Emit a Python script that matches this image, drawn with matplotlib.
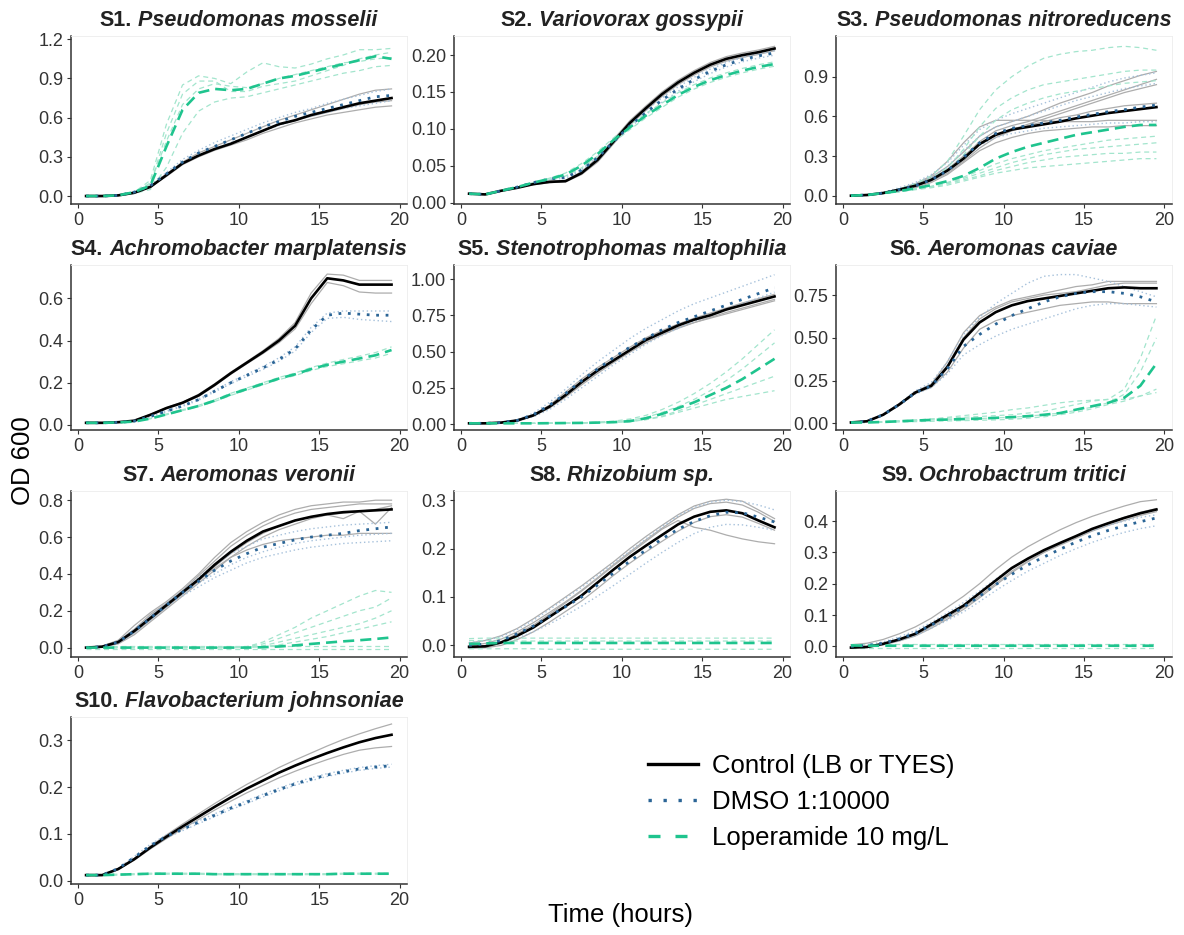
import matplotlib
matplotlib.use('Agg')
import matplotlib.pyplot as plt
from matplotlib.lines import Line2D

plt.rcParams['font.family'] = ['Liberation Sans', 'DejaVu Sans']

# sampling times (hours)
hours = [0.5, 1.5, 2.5, 3.5, 4.5, 5.5, 6.5, 7.5, 8.5, 9.5,
         10.5, 11.5, 12.5, 13.5, 14.5, 15.5, 16.5, 17.5, 18.5, 19.5]

panel_ids = ['S1.', 'S2.', 'S3.', 'S4.', 'S5.', 'S6.', 'S7.', 'S8.', 'S9.', 'S10.']
species = ['Pseudomonas mosselii', 'Variovorax gossypii', 'Pseudomonas nitroreducens',
           'Achromobacter marplatensis', 'Stenotrophomas maltophilia', 'Aeromonas caviae',
           'Aeromonas veronii', 'Rhizobium sp.', 'Ochrobactrum tritici',
           'Flavobacterium johnsoniae']
legend_labels = ['Control (LB or TYES)', 'DMSO 1:10000', 'Loperamide 10 mg/L']

# ---- S1 Pseudomonas mosselii
s1_ctrl = [0.0, 0.0, 0.005, 0.025, 0.07, 0.16, 0.25, 0.31, 0.36, 0.40, 0.45, 0.50, 0.55, 0.58, 0.62, 0.65, 0.68, 0.71, 0.73, 0.75]
s1_dmso = [0.0, 0.0, 0.005, 0.03, 0.08, 0.17, 0.26, 0.33, 0.38, 0.43, 0.48, 0.53, 0.57, 0.61, 0.64, 0.67, 0.70, 0.73, 0.76, 0.77]
s1_lop = [0.0, 0.0, 0.005, 0.03, 0.08, 0.38, 0.66, 0.79, 0.82, 0.81, 0.82, 0.86, 0.90, 0.92, 0.95, 0.98, 1.01, 1.04, 1.07, 1.05]
s1_ctrl_reps = [
    [0.0, 0.0, 0.005, 0.025, 0.075, 0.17, 0.26, 0.33, 0.38, 0.43, 0.48, 0.53, 0.58, 0.62, 0.66, 0.70, 0.74, 0.78, 0.81, 0.82],
    [0.0, 0.0, 0.005, 0.025, 0.07, 0.15, 0.24, 0.30, 0.35, 0.39, 0.43, 0.48, 0.52, 0.56, 0.59, 0.62, 0.64, 0.66, 0.68, 0.69],
    [0.0, 0.0, 0.005, 0.025, 0.07, 0.16, 0.25, 0.31, 0.36, 0.40, 0.45, 0.50, 0.55, 0.58, 0.61, 0.64, 0.67, 0.70, 0.72, 0.73]]
s1_dmso_reps = [
    [0.0, 0.0, 0.005, 0.03, 0.085, 0.18, 0.28, 0.35, 0.41, 0.46, 0.51, 0.56, 0.60, 0.64, 0.67, 0.71, 0.74, 0.77, 0.80, 0.82],
    [0.0, 0.0, 0.005, 0.03, 0.075, 0.16, 0.25, 0.31, 0.36, 0.41, 0.45, 0.50, 0.54, 0.58, 0.61, 0.64, 0.67, 0.69, 0.71, 0.73]]
s1_lop_reps = [
    [0.0, 0.0, 0.005, 0.03, 0.12, 0.55, 0.85, 0.92, 0.90, 0.86, 0.95, 1.02, 0.99, 0.98, 1.01, 1.05, 1.08, 1.12, 1.12, 1.13],
    [0.0, 0.0, 0.005, 0.02, 0.05, 0.22, 0.48, 0.65, 0.72, 0.75, 0.76, 0.79, 0.82, 0.85, 0.88, 0.91, 0.94, 0.96, 0.99, 1.00],
    [0.0, 0.0, 0.005, 0.03, 0.10, 0.42, 0.70, 0.82, 0.86, 0.84, 0.83, 0.86, 0.90, 0.93, 0.96, 0.99, 1.02, 1.03, 1.05, 1.06],
    [0.0, 0.0, 0.005, 0.03, 0.09, 0.48, 0.78, 0.88, 0.88, 0.80, 0.80, 0.84, 0.86, 0.88, 0.92, 0.96, 1.00, 1.05, 1.08, 1.10]]

# ---- S2 Variovorax gossypii
s2_ctrl = [0.012, 0.011, 0.016, 0.020, 0.025, 0.028, 0.029, 0.040, 0.058, 0.083, 0.108, 0.128, 0.147, 0.163, 0.176, 0.187, 0.195, 0.200, 0.204, 0.209]
s2_dmso = [0.012, 0.011, 0.016, 0.021, 0.027, 0.032, 0.034, 0.044, 0.061, 0.083, 0.104, 0.122, 0.139, 0.154, 0.167, 0.178, 0.187, 0.194, 0.199, 0.203]
s2_lop = [0.012, 0.011, 0.016, 0.021, 0.027, 0.032, 0.038, 0.050, 0.066, 0.085, 0.102, 0.118, 0.132, 0.146, 0.157, 0.166, 0.173, 0.179, 0.184, 0.188]
s2_ctrl_reps = [
    [0.012, 0.011, 0.016, 0.021, 0.026, 0.029, 0.030, 0.042, 0.061, 0.086, 0.111, 0.131, 0.150, 0.166, 0.179, 0.190, 0.198, 0.203, 0.207, 0.212],
    [0.012, 0.011, 0.016, 0.020, 0.024, 0.027, 0.028, 0.038, 0.055, 0.080, 0.105, 0.125, 0.144, 0.160, 0.173, 0.184, 0.192, 0.197, 0.201, 0.206]]
s2_dmso_reps = [
    [0.012, 0.011, 0.016, 0.021, 0.027, 0.033, 0.035, 0.045, 0.063, 0.085, 0.106, 0.125, 0.142, 0.157, 0.170, 0.181, 0.190, 0.197, 0.202, 0.206],
    [0.012, 0.011, 0.016, 0.021, 0.026, 0.031, 0.033, 0.043, 0.059, 0.081, 0.102, 0.119, 0.136, 0.151, 0.164, 0.175, 0.184, 0.191, 0.196, 0.200]]
s2_lop_reps = [
    [0.012, 0.011, 0.016, 0.021, 0.027, 0.033, 0.040, 0.053, 0.069, 0.088, 0.105, 0.121, 0.135, 0.149, 0.160, 0.169, 0.176, 0.182, 0.187, 0.191],
    [0.012, 0.011, 0.016, 0.021, 0.026, 0.031, 0.036, 0.047, 0.063, 0.082, 0.099, 0.115, 0.129, 0.143, 0.154, 0.163, 0.170, 0.176, 0.181, 0.185]]

# ---- S3 Pseudomonas nitroreducens
s3_ctrl = [0.0, 0.005, 0.02, 0.045, 0.075, 0.12, 0.19, 0.28, 0.39, 0.46, 0.50, 0.52, 0.54, 0.56, 0.585, 0.605, 0.625, 0.64, 0.655, 0.67]
s3_dmso = [0.0, 0.005, 0.02, 0.045, 0.075, 0.12, 0.19, 0.29, 0.40, 0.47, 0.51, 0.53, 0.55, 0.57, 0.595, 0.615, 0.635, 0.65, 0.67, 0.685]
s3_lop = [0.0, 0.005, 0.02, 0.035, 0.055, 0.08, 0.11, 0.15, 0.21, 0.28, 0.33, 0.37, 0.40, 0.43, 0.46, 0.48, 0.50, 0.52, 0.535, 0.535]
s3_ctrl_reps = [
    [0.0, 0.005, 0.02, 0.05, 0.09, 0.14, 0.22, 0.33, 0.45, 0.52, 0.56, 0.60, 0.65, 0.70, 0.74, 0.78, 0.83, 0.87, 0.91, 0.94],
    [0.0, 0.005, 0.02, 0.045, 0.08, 0.13, 0.20, 0.30, 0.40, 0.46, 0.50, 0.54, 0.58, 0.62, 0.66, 0.70, 0.74, 0.78, 0.81, 0.84],
    [0.0, 0.005, 0.02, 0.05, 0.09, 0.15, 0.26, 0.40, 0.52, 0.57, 0.57, 0.57, 0.57, 0.56, 0.56, 0.56, 0.57, 0.57, 0.57, 0.57],
    [0.0, 0.005, 0.015, 0.035, 0.06, 0.10, 0.16, 0.25, 0.34, 0.40, 0.44, 0.47, 0.49, 0.50, 0.51, 0.52, 0.52, 0.53, 0.53, 0.53],
    [0.0, 0.005, 0.02, 0.04, 0.07, 0.11, 0.17, 0.26, 0.36, 0.44, 0.49, 0.53, 0.56, 0.59, 0.61, 0.64, 0.66, 0.68, 0.69, 0.70],
    [0.0, 0.005, 0.02, 0.045, 0.08, 0.12, 0.19, 0.29, 0.41, 0.49, 0.53, 0.56, 0.60, 0.64, 0.68, 0.72, 0.76, 0.80, 0.84, 0.88]]
s3_dmso_reps = [
    [0.0, 0.005, 0.02, 0.05, 0.09, 0.14, 0.22, 0.34, 0.45, 0.52, 0.56, 0.60, 0.64, 0.68, 0.72, 0.75, 0.78, 0.81, 0.83, 0.85],
    [0.0, 0.005, 0.02, 0.045, 0.075, 0.12, 0.19, 0.28, 0.38, 0.44, 0.47, 0.49, 0.51, 0.52, 0.53, 0.54, 0.55, 0.55, 0.56, 0.56],
    [0.0, 0.006, 0.025, 0.06, 0.10, 0.16, 0.25, 0.38, 0.50, 0.57, 0.62, 0.66, 0.70, 0.74, 0.78, 0.82, 0.86, 0.89, 0.91, 0.93]]
s3_lop_reps = [
    [0.0, 0.005, 0.02, 0.05, 0.09, 0.15, 0.26, 0.45, 0.65, 0.80, 0.90, 0.98, 1.04, 1.07, 1.09, 1.10, 1.12, 1.13, 1.12, 1.10],
    [0.0, 0.005, 0.02, 0.05, 0.08, 0.13, 0.21, 0.35, 0.52, 0.66, 0.74, 0.80, 0.84, 0.86, 0.88, 0.90, 0.92, 0.94, 0.95, 0.95],
    [0.0, 0.005, 0.02, 0.045, 0.075, 0.12, 0.19, 0.31, 0.45, 0.57, 0.65, 0.70, 0.74, 0.77, 0.79, 0.81, 0.83, 0.85, 0.86, 0.87],
    [0.0, 0.005, 0.015, 0.03, 0.05, 0.07, 0.10, 0.14, 0.19, 0.24, 0.28, 0.31, 0.34, 0.36, 0.38, 0.40, 0.42, 0.43, 0.44, 0.45],
    [0.0, 0.005, 0.015, 0.03, 0.045, 0.06, 0.08, 0.11, 0.14, 0.17, 0.19, 0.21, 0.22, 0.23, 0.24, 0.25, 0.26, 0.27, 0.28, 0.28],
    [0.0, 0.005, 0.015, 0.03, 0.05, 0.07, 0.095, 0.13, 0.17, 0.21, 0.25, 0.28, 0.31, 0.33, 0.35, 0.36, 0.37, 0.38, 0.39, 0.40],
    [0.0, 0.005, 0.015, 0.03, 0.05, 0.065, 0.09, 0.12, 0.15, 0.19, 0.22, 0.25, 0.27, 0.29, 0.30, 0.31, 0.32, 0.32, 0.33, 0.33]]

# ---- S4 Achromobacter marplatensis
s4_ctrl = [0.01, 0.01, 0.013, 0.02, 0.048, 0.08, 0.105, 0.14, 0.19, 0.245, 0.295, 0.345, 0.40, 0.47, 0.60, 0.695, 0.685, 0.665, 0.665, 0.665]
s4_dmso = [0.01, 0.01, 0.012, 0.018, 0.04, 0.065, 0.09, 0.12, 0.16, 0.20, 0.235, 0.27, 0.31, 0.36, 0.45, 0.52, 0.53, 0.525, 0.52, 0.52]
s4_lop = [0.01, 0.01, 0.012, 0.016, 0.03, 0.05, 0.07, 0.09, 0.115, 0.145, 0.17, 0.195, 0.22, 0.24, 0.265, 0.285, 0.30, 0.315, 0.33, 0.355]
s4_ctrl_reps = [
    [0.01, 0.01, 0.013, 0.02, 0.05, 0.082, 0.108, 0.145, 0.195, 0.25, 0.30, 0.352, 0.41, 0.485, 0.625, 0.715, 0.71, 0.685, 0.685, 0.685],
    [0.01, 0.01, 0.013, 0.02, 0.046, 0.078, 0.102, 0.135, 0.185, 0.24, 0.29, 0.338, 0.39, 0.455, 0.575, 0.675, 0.66, 0.63, 0.625, 0.625]]
s4_dmso_reps = [
    [0.01, 0.01, 0.012, 0.018, 0.041, 0.067, 0.092, 0.123, 0.163, 0.205, 0.24, 0.277, 0.318, 0.37, 0.462, 0.53, 0.54, 0.54, 0.54, 0.54],
    [0.01, 0.01, 0.012, 0.018, 0.039, 0.063, 0.088, 0.117, 0.157, 0.195, 0.23, 0.263, 0.302, 0.35, 0.438, 0.505, 0.51, 0.50, 0.495, 0.49]]
s4_lop_reps = [
    [0.01, 0.01, 0.012, 0.016, 0.031, 0.052, 0.072, 0.093, 0.119, 0.15, 0.175, 0.20, 0.225, 0.246, 0.272, 0.293, 0.31, 0.326, 0.343, 0.37],
    [0.01, 0.01, 0.012, 0.016, 0.029, 0.048, 0.068, 0.087, 0.111, 0.14, 0.165, 0.19, 0.215, 0.234, 0.258, 0.277, 0.29, 0.304, 0.317, 0.34]]

# ---- S5 Stenotrophomas maltophilia
s5_ctrl = [0.005, 0.005, 0.01, 0.025, 0.06, 0.12, 0.20, 0.29, 0.37, 0.44, 0.51, 0.58, 0.63, 0.68, 0.72, 0.75, 0.79, 0.82, 0.85, 0.88]
s5_dmso = [0.005, 0.005, 0.01, 0.025, 0.065, 0.13, 0.21, 0.30, 0.38, 0.46, 0.53, 0.59, 0.65, 0.70, 0.74, 0.78, 0.82, 0.86, 0.90, 0.94]
s5_lop = [0.005, 0.005, 0.005, 0.005, 0.005, 0.006, 0.007, 0.008, 0.01, 0.013, 0.02, 0.04, 0.07, 0.11, 0.15, 0.20, 0.25, 0.31, 0.38, 0.45]
s5_ctrl_reps = [
    [0.005, 0.005, 0.01, 0.028, 0.066, 0.13, 0.22, 0.31, 0.39, 0.46, 0.53, 0.595, 0.645, 0.69, 0.73, 0.765, 0.80, 0.835, 0.865, 0.895],
    [0.005, 0.005, 0.01, 0.022, 0.055, 0.11, 0.185, 0.27, 0.35, 0.425, 0.495, 0.56, 0.615, 0.66, 0.70, 0.735, 0.77, 0.80, 0.83, 0.86],
    [0.005, 0.005, 0.01, 0.024, 0.058, 0.115, 0.19, 0.28, 0.36, 0.435, 0.505, 0.57, 0.625, 0.665, 0.70, 0.73, 0.76, 0.79, 0.82, 0.85]]
s5_dmso_reps = [
    [0.005, 0.005, 0.012, 0.03, 0.075, 0.15, 0.24, 0.34, 0.43, 0.51, 0.59, 0.66, 0.72, 0.78, 0.83, 0.87, 0.91, 0.95, 0.99, 1.03],
    [0.005, 0.005, 0.01, 0.02, 0.05, 0.10, 0.17, 0.25, 0.33, 0.41, 0.48, 0.55, 0.61, 0.66, 0.71, 0.75, 0.79, 0.83, 0.87, 0.91]]
s5_lop_reps = [
    [0.005, 0.005, 0.005, 0.005, 0.005, 0.006, 0.007, 0.009, 0.013, 0.02, 0.035, 0.06, 0.10, 0.15, 0.21, 0.28, 0.36, 0.45, 0.55, 0.65],
    [0.005, 0.005, 0.005, 0.005, 0.005, 0.006, 0.007, 0.008, 0.011, 0.016, 0.026, 0.045, 0.08, 0.12, 0.17, 0.23, 0.30, 0.38, 0.47, 0.56],
    [0.005, 0.005, 0.005, 0.005, 0.005, 0.006, 0.007, 0.008, 0.01, 0.012, 0.017, 0.03, 0.05, 0.08, 0.11, 0.14, 0.17, 0.19, 0.21, 0.23],
    [0.005, 0.005, 0.005, 0.005, 0.005, 0.006, 0.007, 0.008, 0.01, 0.012, 0.018, 0.032, 0.055, 0.09, 0.13, 0.17, 0.21, 0.25, 0.29, 0.33]]

# ---- S6 Aeromonas caviae
s6_ctrl = [0.005, 0.012, 0.05, 0.11, 0.18, 0.22, 0.33, 0.49, 0.59, 0.65, 0.69, 0.715, 0.73, 0.745, 0.76, 0.775, 0.79, 0.795, 0.79, 0.79]
s6_dmso = [0.005, 0.012, 0.05, 0.11, 0.18, 0.22, 0.32, 0.45, 0.52, 0.58, 0.63, 0.67, 0.71, 0.74, 0.76, 0.77, 0.77, 0.76, 0.74, 0.71]
s6_lop = [0.005, 0.005, 0.008, 0.012, 0.016, 0.02, 0.022, 0.025, 0.028, 0.032, 0.036, 0.042, 0.05, 0.06, 0.08, 0.10, 0.12, 0.15, 0.22, 0.35]
s6_ctrl_reps = [
    [0.005, 0.012, 0.052, 0.115, 0.185, 0.23, 0.36, 0.53, 0.63, 0.68, 0.72, 0.74, 0.76, 0.78, 0.80, 0.81, 0.83, 0.83, 0.83, 0.83],
    [0.005, 0.012, 0.048, 0.105, 0.175, 0.21, 0.30, 0.44, 0.55, 0.60, 0.63, 0.65, 0.67, 0.69, 0.70, 0.71, 0.71, 0.70, 0.70, 0.70],
    [0.005, 0.012, 0.05, 0.11, 0.18, 0.22, 0.34, 0.50, 0.61, 0.67, 0.71, 0.73, 0.75, 0.76, 0.77, 0.79, 0.81, 0.82, 0.82, 0.82]]
s6_dmso_reps = [
    [0.005, 0.012, 0.05, 0.115, 0.19, 0.24, 0.36, 0.52, 0.62, 0.70, 0.76, 0.82, 0.86, 0.87, 0.87, 0.85, 0.83, 0.80, 0.77, 0.74],
    [0.005, 0.012, 0.048, 0.105, 0.17, 0.21, 0.29, 0.40, 0.46, 0.51, 0.55, 0.58, 0.61, 0.64, 0.67, 0.69, 0.70, 0.70, 0.69, 0.68]]
s6_lop_reps = [
    [0.005, 0.005, 0.01, 0.015, 0.02, 0.025, 0.03, 0.035, 0.04, 0.045, 0.05, 0.06, 0.07, 0.09, 0.11, 0.13, 0.14, 0.20, 0.38, 0.63],
    [0.005, 0.005, 0.008, 0.012, 0.018, 0.025, 0.035, 0.045, 0.055, 0.065, 0.08, 0.09, 0.105, 0.12, 0.13, 0.135, 0.14, 0.14, 0.16, 0.18],
    [0.005, 0.005, 0.008, 0.012, 0.016, 0.02, 0.022, 0.025, 0.028, 0.032, 0.036, 0.042, 0.05, 0.06, 0.075, 0.095, 0.12, 0.17, 0.30, 0.50],
    [0.005, 0.005, 0.006, 0.008, 0.01, 0.012, 0.014, 0.016, 0.018, 0.02, 0.024, 0.03, 0.038, 0.05, 0.065, 0.085, 0.11, 0.13, 0.16, 0.20]]

# ---- S7 Aeromonas veronii
s7_ctrl = [0.0, 0.005, 0.03, 0.09, 0.16, 0.23, 0.30, 0.37, 0.45, 0.52, 0.58, 0.63, 0.66, 0.69, 0.71, 0.725, 0.735, 0.74, 0.745, 0.75]
s7_dmso = [0.0, 0.005, 0.03, 0.09, 0.16, 0.23, 0.30, 0.36, 0.42, 0.47, 0.51, 0.545, 0.565, 0.585, 0.60, 0.61, 0.62, 0.635, 0.645, 0.655]
s7_lop = [0.0, 0.0, 0.0, 0.0, 0.0, 0.0, 0.0, 0.0, 0.0, 0.0, 0.0, 0.002, 0.006, 0.012, 0.02, 0.027, 0.034, 0.04, 0.047, 0.055]
s7_ctrl_reps = [
    [0.0, 0.008, 0.04, 0.12, 0.19, 0.25, 0.32, 0.40, 0.49, 0.57, 0.63, 0.68, 0.72, 0.75, 0.77, 0.78, 0.79, 0.79, 0.80, 0.80],
    [0.0, 0.005, 0.03, 0.09, 0.17, 0.24, 0.31, 0.39, 0.47, 0.55, 0.61, 0.66, 0.70, 0.73, 0.75, 0.76, 0.77, 0.78, 0.78, 0.78],
    [0.0, 0.003, 0.02, 0.07, 0.14, 0.21, 0.28, 0.35, 0.42, 0.49, 0.55, 0.60, 0.64, 0.67, 0.70, 0.72, 0.70, 0.74, 0.67, 0.76],
    [0.0, 0.004, 0.025, 0.08, 0.15, 0.22, 0.29, 0.36, 0.44, 0.51, 0.57, 0.62, 0.66, 0.69, 0.71, 0.72, 0.73, 0.74, 0.75, 0.77],
    [0.0, 0.006, 0.035, 0.10, 0.18, 0.24, 0.30, 0.37, 0.43, 0.49, 0.53, 0.56, 0.58, 0.59, 0.60, 0.61, 0.61, 0.62, 0.62, 0.62]]
s7_dmso_reps = [
    [0.0, 0.006, 0.035, 0.10, 0.17, 0.24, 0.31, 0.38, 0.45, 0.51, 0.55, 0.59, 0.61, 0.63, 0.645, 0.655, 0.665, 0.67, 0.675, 0.68],
    [0.0, 0.004, 0.025, 0.08, 0.15, 0.22, 0.28, 0.33, 0.38, 0.42, 0.46, 0.49, 0.51, 0.53, 0.545, 0.555, 0.565, 0.57, 0.575, 0.58],
    [0.0, 0.005, 0.03, 0.09, 0.16, 0.23, 0.29, 0.35, 0.40, 0.45, 0.49, 0.52, 0.545, 0.565, 0.58, 0.59, 0.60, 0.61, 0.615, 0.62]]
s7_lop_reps = [
    [0.0, 0.0, 0.0, 0.0, 0.0, 0.0, 0.0, 0.0, 0.0, 0.0, 0.005, 0.03, 0.07, 0.11, 0.16, 0.20, 0.24, 0.28, 0.31, 0.30],
    [0.0, 0.0, 0.0, 0.0, 0.0, 0.0, 0.0, 0.0, 0.0, 0.0, 0.005, 0.02, 0.05, 0.08, 0.11, 0.14, 0.17, 0.20, 0.22, 0.27],
    [0.0, 0.0, 0.0, 0.0, 0.0, 0.0, 0.0, 0.0, 0.0, 0.0, 0.002, 0.01, 0.03, 0.05, 0.07, 0.09, 0.11, 0.13, 0.16, 0.20],
    [0.0, 0.0, 0.0, 0.0, 0.0, 0.0, 0.0, 0.0, 0.0, 0.0, 0.0, 0.005, 0.015, 0.03, 0.045, 0.06, 0.08, 0.10, 0.12, 0.14],
    [0.01, 0.01, 0.01, 0.01, 0.01, 0.01, 0.01, 0.01, 0.01, 0.01, 0.01, 0.01, 0.01, 0.01, 0.01, 0.01, 0.01, 0.01, 0.01, 0.01],
    [-0.008, -0.008, -0.008, -0.008, -0.008, -0.008, -0.008, -0.008, -0.008, -0.008, -0.008, -0.008, -0.008, -0.008, -0.008, -0.008, -0.008, -0.008, -0.008, -0.008]]

# ---- S8 Rhizobium sp.
s8_ctrl = [-0.003, -0.002, 0.006, 0.02, 0.037, 0.059, 0.081, 0.103, 0.13, 0.157, 0.183, 0.206, 0.228, 0.25, 0.266, 0.276, 0.279, 0.273, 0.258, 0.244]
s8_dmso = [0.0, 0.003, 0.01, 0.024, 0.04, 0.06, 0.08, 0.10, 0.125, 0.15, 0.174, 0.197, 0.22, 0.24, 0.256, 0.268, 0.275, 0.274, 0.265, 0.255]
s8_lop = [0.003, 0.004, 0.005, 0.005, 0.005, 0.005, 0.005, 0.005, 0.005, 0.005, 0.005, 0.005, 0.005, 0.005, 0.005, 0.005, 0.005, 0.005, 0.005, 0.005]
s8_ctrl_reps = [
    [0.005, 0.01, 0.02, 0.035, 0.055, 0.077, 0.10, 0.123, 0.148, 0.173, 0.20, 0.225, 0.248, 0.27, 0.288, 0.298, 0.302, 0.298, 0.28, 0.262],
    [-0.006, -0.005, 0.0, 0.012, 0.028, 0.048, 0.07, 0.092, 0.118, 0.145, 0.17, 0.193, 0.215, 0.236, 0.254, 0.266, 0.27, 0.265, 0.252, 0.238],
    [-0.003, -0.001, 0.008, 0.024, 0.042, 0.064, 0.088, 0.112, 0.138, 0.165, 0.19, 0.215, 0.24, 0.258, 0.244, 0.238, 0.228, 0.22, 0.214, 0.21],
    [0.0, 0.004, 0.013, 0.028, 0.047, 0.068, 0.09, 0.114, 0.14, 0.167, 0.193, 0.218, 0.242, 0.265, 0.283, 0.293, 0.296, 0.29, 0.275, 0.256]]
s8_dmso_reps = [
    [0.006, 0.01, 0.018, 0.033, 0.052, 0.074, 0.097, 0.12, 0.145, 0.17, 0.195, 0.22, 0.245, 0.268, 0.285, 0.296, 0.30, 0.297, 0.29, 0.28],
    [-0.002, 0.0, 0.005, 0.015, 0.028, 0.044, 0.062, 0.081, 0.102, 0.124, 0.147, 0.17, 0.192, 0.213, 0.231, 0.244, 0.25, 0.249, 0.244, 0.238]]
s8_lop_reps = [
    [0.014, 0.015, 0.015, 0.015, 0.015, 0.015, 0.015, 0.015, 0.015, 0.015, 0.015, 0.015, 0.015, 0.015, 0.015, 0.015, 0.015, 0.015, 0.015, 0.015],
    [-0.007, -0.007, -0.007, -0.007, -0.007, -0.008, -0.008, -0.008, -0.008, -0.008, -0.008, -0.008, -0.008, -0.008, -0.008, -0.008, -0.008, -0.008, -0.008, -0.008],
    [0.010, 0.010, 0.010, 0.009, 0.009, 0.009, 0.009, 0.009, 0.009, 0.009, 0.009, 0.009, 0.009, 0.009, 0.009, 0.009, 0.009, 0.009, 0.009, 0.009]]

# ---- S9 Ochrobactrum tritici
s9_ctrl = [-0.004, -0.002, 0.008, 0.022, 0.04, 0.07, 0.10, 0.13, 0.17, 0.21, 0.25, 0.28, 0.307, 0.33, 0.352, 0.375, 0.393, 0.41, 0.425, 0.437]
s9_dmso = [0.0, 0.003, 0.01, 0.024, 0.042, 0.068, 0.095, 0.125, 0.16, 0.197, 0.23, 0.26, 0.285, 0.31, 0.333, 0.353, 0.37, 0.385, 0.398, 0.41]
s9_lop = [0.003, 0.002, 0.002, 0.002, 0.002, 0.002, 0.002, 0.002, 0.002, 0.002, 0.002, 0.002, 0.002, 0.002, 0.002, 0.002, 0.002, 0.002, 0.002, 0.002]
s9_ctrl_reps = [
    [0.005, 0.01, 0.022, 0.04, 0.062, 0.09, 0.125, 0.16, 0.20, 0.245, 0.285, 0.318, 0.346, 0.372, 0.395, 0.415, 0.432, 0.448, 0.462, 0.468],
    [-0.005, -0.003, 0.005, 0.017, 0.033, 0.058, 0.087, 0.118, 0.155, 0.195, 0.235, 0.27, 0.30, 0.326, 0.35, 0.374, 0.394, 0.412, 0.428, 0.44],
    [-0.004, -0.002, 0.006, 0.019, 0.036, 0.063, 0.093, 0.124, 0.16, 0.20, 0.24, 0.272, 0.30, 0.323, 0.345, 0.368, 0.386, 0.402, 0.418, 0.43]]
s9_dmso_reps = [
    [0.003, 0.006, 0.014, 0.03, 0.05, 0.077, 0.107, 0.14, 0.177, 0.215, 0.25, 0.28, 0.305, 0.328, 0.35, 0.37, 0.386, 0.40, 0.412, 0.42],
    [-0.002, 0.0, 0.006, 0.018, 0.034, 0.058, 0.083, 0.11, 0.143, 0.178, 0.21, 0.24, 0.265, 0.29, 0.312, 0.332, 0.349, 0.364, 0.376, 0.385]]
s9_lop_reps = [
    [0.009, 0.009, 0.009, 0.009, 0.009, 0.009, 0.009, 0.009, 0.009, 0.009, 0.009, 0.009, 0.009, 0.009, 0.009, 0.009, 0.009, 0.009, 0.009, 0.009],
    [-0.006, -0.006, -0.006, -0.006, -0.006, -0.006, -0.006, -0.006, -0.006, -0.006, -0.006, -0.006, -0.006, -0.006, -0.006, -0.006, -0.006, -0.006, -0.006, -0.006]]

# ---- S10 Flavobacterium johnsoniae
s10_ctrl = [0.012, 0.012, 0.025, 0.046, 0.071, 0.094, 0.116, 0.137, 0.158, 0.178, 0.197, 0.214, 0.231, 0.246, 0.26, 0.273, 0.285, 0.296, 0.305, 0.312]
s10_dmso = [0.012, 0.012, 0.026, 0.05, 0.075, 0.095, 0.11, 0.125, 0.14, 0.155, 0.168, 0.182, 0.195, 0.207, 0.217, 0.226, 0.233, 0.239, 0.243, 0.246]
s10_lop = [0.012, 0.012, 0.013, 0.014, 0.015, 0.015, 0.015, 0.015, 0.014, 0.014, 0.014, 0.014, 0.014, 0.014, 0.014, 0.014, 0.015, 0.015, 0.015, 0.015]
s10_ctrl_reps = [
    [0.012, 0.012, 0.026, 0.048, 0.074, 0.098, 0.121, 0.143, 0.165, 0.186, 0.206, 0.224, 0.242, 0.258, 0.273, 0.288, 0.302, 0.314, 0.325, 0.335],
    [0.012, 0.012, 0.024, 0.044, 0.068, 0.09, 0.111, 0.131, 0.151, 0.17, 0.188, 0.204, 0.22, 0.234, 0.247, 0.259, 0.27, 0.279, 0.284, 0.287]]
s10_dmso_reps = [
    [0.012, 0.012, 0.027, 0.052, 0.078, 0.098, 0.113, 0.128, 0.143, 0.158, 0.171, 0.185, 0.198, 0.21, 0.22, 0.229, 0.236, 0.242, 0.246, 0.249],
    [0.012, 0.012, 0.025, 0.048, 0.072, 0.092, 0.107, 0.122, 0.137, 0.152, 0.165, 0.179, 0.192, 0.204, 0.214, 0.223, 0.230, 0.236, 0.240, 0.243]]
s10_lop_reps = [
    [0.012, 0.013, 0.014, 0.015, 0.016, 0.016, 0.016, 0.016, 0.015, 0.015, 0.015, 0.015, 0.015, 0.015, 0.015, 0.015, 0.016, 0.016, 0.016, 0.016],
    [0.011, 0.011, 0.012, 0.013, 0.014, 0.014, 0.014, 0.014, 0.013, 0.013, 0.013, 0.013, 0.013, 0.013, 0.013, 0.013, 0.014, 0.014, 0.014, 0.014]]

# per-panel y axis setup
y_limits = [(-0.061, 1.225), (-0.002, 0.226), (-0.063, 1.208),
            (-0.024, 0.758), (-0.041, 1.097), (-0.039, 0.926),
            (-0.051, 0.85), (-0.024, 0.319), (-0.034, 0.496),
            (-0.007, 0.35)]
y_ticks = [[0, 0.3, 0.6, 0.9, 1.2], [0, 0.05, 0.1, 0.15, 0.2], [0, 0.3, 0.6, 0.9],
           [0, 0.2, 0.4, 0.6], [0, 0.25, 0.5, 0.75, 1.0], [0, 0.25, 0.5, 0.75],
           [0, 0.2, 0.4, 0.6, 0.8], [0, 0.1, 0.2, 0.3], [0, 0.1, 0.2, 0.3, 0.4],
           [0, 0.1, 0.2, 0.3]]
y_fmt = ['%.1f', '%.2f', '%.1f', '%.1f', '%.2f', '%.2f', '%.1f', '%.1f', '%.1f', '%.1f']
x_ticks = [0, 5, 10, 15, 20]

panels = [
    (s1_ctrl, s1_dmso, s1_lop, s1_ctrl_reps, s1_dmso_reps, s1_lop_reps),
    (s2_ctrl, s2_dmso, s2_lop, s2_ctrl_reps, s2_dmso_reps, s2_lop_reps),
    (s3_ctrl, s3_dmso, s3_lop, s3_ctrl_reps, s3_dmso_reps, s3_lop_reps),
    (s4_ctrl, s4_dmso, s4_lop, s4_ctrl_reps, s4_dmso_reps, s4_lop_reps),
    (s5_ctrl, s5_dmso, s5_lop, s5_ctrl_reps, s5_dmso_reps, s5_lop_reps),
    (s6_ctrl, s6_dmso, s6_lop, s6_ctrl_reps, s6_dmso_reps, s6_lop_reps),
    (s7_ctrl, s7_dmso, s7_lop, s7_ctrl_reps, s7_dmso_reps, s7_lop_reps),
    (s8_ctrl, s8_dmso, s8_lop, s8_ctrl_reps, s8_dmso_reps, s8_lop_reps),
    (s9_ctrl, s9_dmso, s9_lop, s9_ctrl_reps, s9_dmso_reps, s9_lop_reps),
    (s10_ctrl, s10_dmso, s10_lop, s10_ctrl_reps, s10_dmso_reps, s10_lop_reps),
]

# colours
dmso_col = '#2b6596'
lop_col = '#1fc48e'
ctrl_rep_col = '#adadad'
dmso_rep_col = '#a6c1db'
lop_rep_col = '#a3e5cd'
axis_col = '#333333'

W, H = 1184, 935
fig = plt.figure(figsize=(W / 100, H / 100), dpi=100)

# panel layout in pixels
col_left = [70.8, 453.8, 835.7]
col_w = 336
row_top = [36, 265, 491, 717]
row_h = [168, 165, 166, 167]

axes = []
for i, (ctrl, dmso, lop, ctrl_reps, dmso_reps, lop_reps) in enumerate(panels):
    r, c = divmod(i, 3)
    ax = fig.add_axes([col_left[c] / W, 1 - (row_top[r] + row_h[r]) / H,
                       col_w / W, row_h[r] / H])
    axes.append(ax)
    for rep in ctrl_reps:
        ax.plot(hours, rep, color=ctrl_rep_col, lw=0.9, zorder=1)
    for rep in dmso_reps:
        ax.plot(hours, rep, color=dmso_rep_col, lw=1.0, ls=(0, (1, 2)), zorder=1)
    for rep in lop_reps:
        ax.plot(hours, rep, color=lop_rep_col, lw=0.9, ls=(0, (4, 3)), zorder=1)
    ax.plot(hours, ctrl, color='black', lw=1.9, zorder=3)
    ax.plot(hours, dmso, color=dmso_col, lw=2.0, ls=(0, (1, 2.4)), zorder=4)
    ax.plot(hours, lop, color=lop_col, lw=1.9, ls=(0, (4.2, 2.3)), zorder=5)

    ax.set_xlim(-0.45, 20.45)
    ax.set_ylim(*y_limits[i])
    ax.set_xticks(x_ticks)
    ax.set_yticks(y_ticks[i])
    ax.set_yticklabels([y_fmt[i] % v for v in y_ticks[i]])
    ax.tick_params(labelsize=13, colors=axis_col, length=3, width=0.8, pad=2.5)
    for side in ['left', 'bottom']:
        ax.spines[side].set_color(axis_col)
        ax.spines[side].set_linewidth(1.1)
    for side in ['top', 'right']:
        ax.spines[side].set_color('#ededed')
        ax.spines[side].set_linewidth(0.6)

# titles: bold id + bold italic species name, centred over each panel
fig.canvas.draw()
rend = fig.canvas.get_renderer()
title_size = 15.5
for i, ax in enumerate(axes):
    r, c = divmod(i, 3)
    y = 1 - (row_top[r] - 10) / H
    t1 = fig.text(0, y, panel_ids[i], fontsize=title_size, fontweight='bold',
                  color='#222222', va='baseline')
    t2 = fig.text(0, y, species[i], fontsize=title_size, fontweight='bold',
                  fontstyle='italic', color='#222222', va='baseline')
    w1 = t1.get_window_extent(rend).width
    w2 = t2.get_window_extent(rend).width
    gap = 0.28 * title_size * 100 / 72
    cx = col_left[c] + col_w / 2
    x0 = cx - (w1 + gap + w2) / 2
    t1.set_x(x0 / W)
    t2.set_x((x0 + w1 + gap) / W)

fig.text(23 / W, 1 - 461 / H, 'OD 600', rotation=90, ha='center', va='center',
         fontsize=18.5)
fig.text(621 / W, 1 - 915 / H, 'Time (hours)', ha='center', va='center',
         fontsize=18.5)

handles = [Line2D([], [], color='black', lw=2.4),
           Line2D([], [], color=dmso_col, lw=2.4, ls=(0, (1, 3.5))),
           Line2D([], [], color=lop_col, lw=2.4, ls=(0, (3.6, 4.5)))]
fig.legend(handles, legend_labels, loc='center left',
           bbox_to_anchor=(648 / W, 1 - 802 / H), frameon=False, fontsize=18.5,
           handlelength=1.95, handletextpad=0.55, labelspacing=0.45,
           borderpad=0, borderaxespad=0)

fig.savefig('out.png', dpi=100)
